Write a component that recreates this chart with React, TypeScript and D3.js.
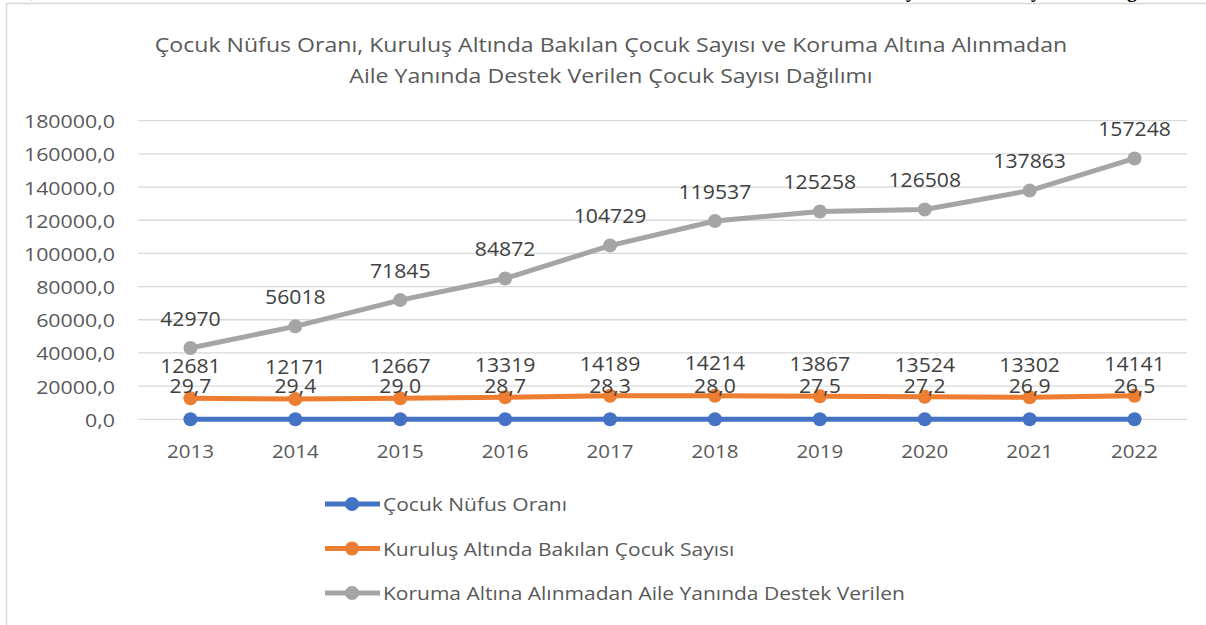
import React from "react";
import * as d3 from "d3";

const years = ["2013", "2014", "2015", "2016", "2017", "2018", "2019", "2020", "2021", "2022"];
const cocukNufusOrani = [29.7, 29.4, 29.0, 28.7, 28.3, 28.0, 27.5, 27.2, 26.9, 26.5];
const kurulusAltinda = [12681, 12171, 12667, 13319, 14189, 14214, 13867, 13524, 13302, 14141];
const korumaAltina = [42970, 56018, 71845, 84872, 104729, 119537, 125258, 126508, 137863, 157248];
const yTicks = [0, 20000, 40000, 60000, 80000, 100000, 120000, 140000, 160000, 180000];
const titleLines = [
  "Çocuk Nüfus Oranı, Kuruluş Altında Bakılan Çocuk Sayısı ve Koruma Altına Alınmadan",
  "Aile Yanında Destek Verilen Çocuk Sayısı Dağılımı",
];
const seriesNames = [
  "Çocuk Nüfus Oranı",
  "Kuruluş Altında Bakılan Çocuk Sayısı",
  "Koruma Altına Alınmadan Aile Yanında Destek Verilen",
];

const W = 1206;
const H = 625;
const FONT = "'Open Sans', 'Noto Sans', sans-serif";

type STProps = {
  x: number;
  y: number;
  sx: number;
  anchor?: "start" | "middle" | "end";
  size: number;
  fill: string;
  children: React.ReactNode;
};

function ST({ x, y, sx, anchor = "start", size, fill, children }: STProps) {
  return (
    <text
      transform={`translate(${x},${y}) scale(${sx},1)`}
      textAnchor={anchor}
      dominantBaseline="central"
      fontSize={size}
      fill={fill}
    >
      {children}
    </text>
  );
}

export default function App() {
  const x = d3.scaleBand<string>().domain(years).range([138, 1187]).padding(0);
  const y = d3.scaleLinear().domain([0, 180000]).range([419.3, 120.7]);
  const cx = (yr: string) => (x(yr) as number) + x.bandwidth() / 2;
  const fmtTick = (v: number) => d3.format(".1f")(v).replace(".", ",");
  const fmtRate = (v: number) => d3.format(".1f")(v).replace(".", ",");

  const series = [
    { name: seriesNames[0], values: cocukNufusOrani, color: "#4472C4", fmt: fmtRate, off: 34 },
    { name: seriesNames[1], values: kurulusAltinda, color: "#ED7D31", fmt: (v: number) => String(v), off: 33 },
    { name: seriesNames[2], values: korumaAltina, color: "#A5A5A5", fmt: (v: number) => String(v), off: 30 },
  ];

  const line = d3
    .line<[string, number]>()
    .x((d) => cx(d[0]))
    .y((d) => y(d[1]));

  return (
    <svg
      width={W}
      height={H}
      style={{ position: "absolute", left: 0, top: 0, background: "#fff" }}
      fontFamily={FONT}
    >
      {/* fragments of document text above the chart */}
      <g fontFamily="'Liberation Serif', serif" fontWeight="bold" fontSize={20} fill="#000">
        <text x={31} y={-3}>,</text>
        <text x={906} y={-3}>y</text>
        <text x={1031} y={-3}>y</text>
        <text x={1127} y={-3}>g</text>
      </g>
      {/* chart frame */}
      <rect x={6.5} y={3.5} width={1220} height={660} fill="#fff" stroke="#D9D9D9" strokeWidth={1.5} />

      {/* title */}
      {titleLines.map((t, i) => (
        <ST key={i} x={611} y={44 + i * 31} sx={1.155} anchor="middle" size={20} fill="#595959">
          {t}
        </ST>
      ))}

      {/* gridlines + y labels */}
      {yTicks.map((t) => (
        <g key={t}>
          <line x1={138} x2={1187} y1={y(t)} y2={y(t)} stroke="#D9D9D9" strokeWidth={1.3} />
          <ST x={115} y={y(t)} sx={1.125} anchor="end" size={19} fill="#595959">
            {fmtTick(t)}
          </ST>
        </g>
      ))}

      {/* x labels */}
      {years.map((yr) => (
        <ST key={yr} x={cx(yr)} y={451} sx={1.08} anchor="middle" size={19} fill="#595959">
          {yr}
        </ST>
      ))}

      {/* series */}
      {series.map((s) => {
        const pts = years.map((yr, i) => [yr, s.values[i]] as [string, number]);
        return (
          <g key={s.name}>
            <path d={line(pts) || ""} fill="none" stroke={s.color} strokeWidth={5} strokeLinejoin="round" />
            {pts.map((p) => (
              <circle key={p[0]} cx={cx(p[0])} cy={y(p[1])} r={7} fill={s.color} />
            ))}
          </g>
        );
      })}

      {/* data labels */}
      {series.map((s) => (
        <g key={s.name + "-lbl"}>
          {years.map((yr, i) => (
            <ST key={yr} x={cx(yr)} y={y(s.values[i]) - s.off} sx={1.06} anchor="middle" size={20} fill="#404040">
              {s.fmt(s.values[i])}
            </ST>
          ))}
        </g>
      ))}

      {/* legend */}
      {series.map((s, i) => {
        const ly = 504 + i * 44.5;
        return (
          <g key={s.name + "-leg"}>
            <line x1={325} x2={380} y1={ly} y2={ly} stroke={s.color} strokeWidth={5} />
            <circle cx={352} cy={ly} r={7} fill={s.color} />
            <ST x={383} y={ly} sx={1.105} size={19} fill="#595959">
              {s.name}
            </ST>
          </g>
        );
      })}
    </svg>
  );
}
